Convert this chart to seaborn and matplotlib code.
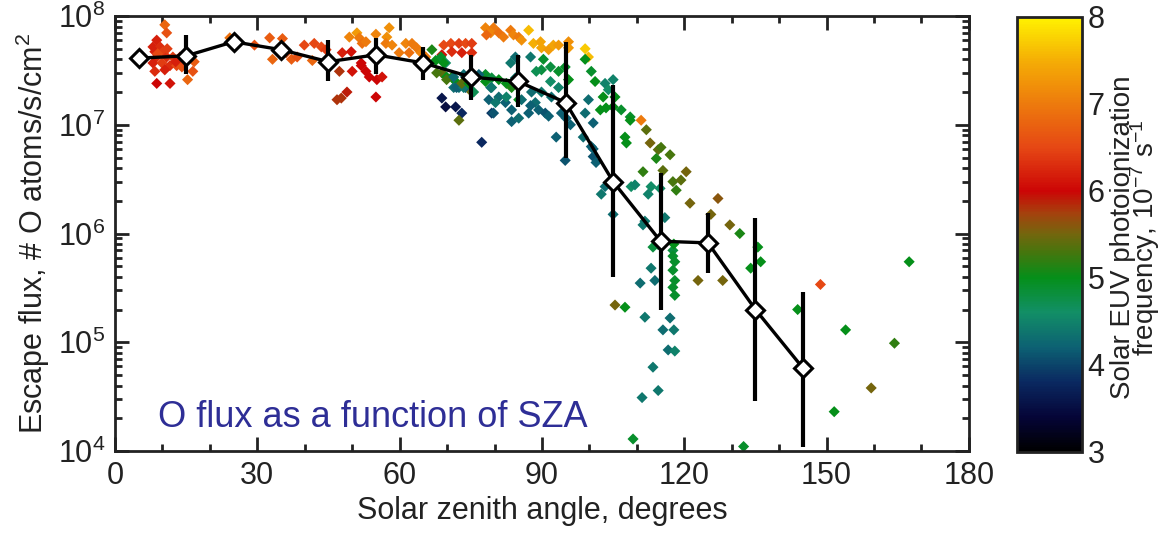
import numpy as np
import pandas as pd
import matplotlib
matplotlib.use("Agg")
import matplotlib.pyplot as plt
from matplotlib.colors import LinearSegmentedColormap, Normalize
from matplotlib.cm import ScalarMappable
from matplotlib.ticker import MultipleLocator, FixedLocator, FixedFormatter, NullFormatter
import seaborn as sns

# ---- individual escape-flux measurements --------------------------------
sza = [
    10.5, 10.9, 8.8, 8.0, 9.5, 8.4, 10.1, 8.8, 10.9, 12.2,
    8.0, 9.9, 11.6, 13.0, 8.4, 10.5, 14.1, 14.3, 15.8, 16.4,
    8.8, 11.6, 15.3, 13.7, 9.0, 12.8, 11.0, 16.7,
    24.2, 25.4, 29.4, 32.6, 35.3, 33.2, 36.1, 37.2, 38.4, 39.9,
    42.0, 43.5, 44.5, 41.6, 47.9, 49.8, 51.0, 49.4, 51.5, 52.1,
    52.9, 55.0, 57.3, 57.8, 57.1, 58.4, 51.9, 51.9, 52.9, 53.6,
    55.2, 56.3, 50.0, 55.0, 46.8, 47.7, 48.9, 47.3, 59.9, 61.3,
    62.6, 63.6, 64.5, 62.0, 65.5, 69.3, 70.8, 72.5, 73.9, 75.2,
    68.9, 71.0, 73.1, 75.2, 66.8, 67.6, 69.7, 68.9, 67.8, 69.9,
    71.0, 71.8, 73.5, 72.5, 73.9, 71.4, 75.2, 74.6, 78.1, 79.2,
    79.4, 78.1, 79.8, 79.2, 68.9, 69.7, 71.8, 73.1, 72.5, 77.3,
    78.3, 80.9, 81.9, 83.4, 84.0, 85.1, 85.7, 87.2, 88.2, 89.7,
    89.9, 91.4, 92.4, 93.5, 95.6, 95.6, 99.1, 99.8,
    84.4, 83.4, 87.6, 90.3, 91.8, 93.5, 89.9, 88.8, 94.9, 95.6,
    91.8, 93.5, 99.1, 100.4, 101.2, 103.3, 105.0, 104.0, 102.9, 105.4,
    102.3, 103.5, 105.0, 106.7, 108.6, 107.5, 99.8, 99.1, 100.8, 98.7,
    100.4, 100.8, 101.4, 78.1, 79.4, 80.9, 82.5, 83.6, 84.4, 80.9,
    82.3, 83.6, 85.1, 79.4, 83.6, 85.1, 87.2, 89.3, 90.7, 91.4,
    88.6, 87.8, 89.9, 92.0, 94.1, 95.1, 96.0, 93.0, 94.9,
    68.7, 69.3, 69.9, 71.4, 72.0, 73.5, 73.1, 74.6, 75.6, 76.7,
    78.8, 79.8, 80.2, 82.5, 85.7, 87.6,
    110.9, 108.6, 112.0, 107.8, 112.8, 114.5, 115.1, 117.0, 114.1, 111.3,
    115.5, 120.4, 117.6, 119.3, 118.3, 113.0, 112.4, 114.9, 121.2, 127.1,
    125.6, 129.6, 131.7, 135.5, 136.1, 134.0, 111.7, 111.3, 115.9, 113.4,
    114.5, 117.6, 118.0, 117.6, 118.0, 117.6, 118.0, 117.8, 117.6, 113.0,
    113.8, 110.7, 122.9, 128.1, 105.4, 107.5, 111.7, 117.0, 115.5, 117.8,
    116.6, 118.0, 113.4, 114.5, 111.1, 109.2, 132.5, 102.5, 105.0, 103.3,
    100.8, 108.8, 109.6, 143.9, 148.7, 154.0, 159.4, 164.3, 167.4, 151.6,
]
flux = [
    8.3e7, 7.0e7, 6.0e7, 5.2e7, 5.2e7, 4.7e7, 4.7e7, 4.2e7, 4.2e7, 4.2e7,
    3.7e7, 3.7e7, 3.5e7, 3.5e7, 3.1e7, 3.2e7, 3.4e7, 3.9e7, 4.2e7, 3.1e7,
    2.4e7, 2.4e7, 2.6e7, 4.2e7, 4.5e7, 3.8e7, 5.0e7, 3.8e7,
    6.3e7, 5.8e7, 5.4e7, 6.3e7, 6.2e7, 4.0e7, 4.6e7, 4.0e7, 4.2e7, 5.4e7,
    5.6e7, 5.2e7, 4.9e7, 3.9e7, 4.6e7, 4.7e7, 7.0e7, 6.4e7, 6.3e7, 5.6e7,
    5.8e7, 6.8e7, 6.4e7, 7.8e7, 5.6e7, 5.4e7, 3.7e7, 3.5e7, 3.1e7, 2.75e7,
    2.6e7, 2.75e7, 3.1e7, 1.8e7, 1.7e7, 1.76e7, 2.0e7, 3.1e7, 4.6e7, 5.6e7,
    5.6e7, 5.1e7, 4.6e7, 4.6e7, 4.2e7, 5.4e7, 5.6e7, 5.6e7, 5.6e7, 5.6e7,
    4.4e7, 4.7e7, 4.6e7, 4.6e7, 4.9e7, 3.9e7, 3.7e7, 3.0e7, 3.0e7, 2.75e7,
    2.75e7, 2.5e7, 2.9e7, 2.2e7, 2.2e7, 2.2e7, 2.0e7, 2.5e7, 2.9e7, 2.2e7,
    2.7e7, 7.8e7, 7.8e7, 7.0e7, 1.76e7, 1.46e7, 1.46e7, 1.28e7, 1.1e7, 6.9e6,
    6.7e7, 7.0e7, 6.4e7, 7.4e7, 6.7e7, 6.4e7, 6.0e7, 7.4e7, 5.6e7, 5.8e7,
    5.1e7, 4.9e7, 5.4e7, 5.4e7, 5.8e7, 5.1e7, 5.0e7, 4.2e7,
    4.2e7, 3.7e7, 4.2e7, 4.0e7, 3.4e7, 3.1e7, 3.2e7, 3.1e7, 3.4e7, 2.6e7,
    2.5e7, 2.2e7, 4.0e7, 3.1e7, 2.5e7, 2.4e7, 2.6e7, 2.1e7, 1.8e7, 1.8e7,
    1.37e7, 1.43e7, 1.46e7, 1.37e7, 1.18e7, 7.7e6, 1.7e7, 1.28e7, 1.04e7, 7.7e6,
    6.3e6, 5.1e6, 4.5e6, 2.5e7, 2.2e7, 2.6e7, 2.4e7, 2.2e7, 2.7e7, 1.8e7,
    1.6e7, 1.37e7, 1.7e7, 1.28e7, 1.07e7, 1.15e7, 1.28e7, 1.37e7, 1.28e7, 1.2e7,
    1.6e7, 2.0e7, 2.0e7, 1.8e7, 1.28e7, 1.15e7, 1.0e7, 7.7e6, 4.7e6,
    4.2e7, 3.7e7, 2.6e7, 2.75e7, 2.2e7, 2.2e7, 2.4e7, 2.4e7, 2.0e7, 2.9e7,
    1.7e7, 1.28e7, 1.6e7, 1.8e7, 1.7e7, 1.5e7,
    1.1e7, 1.1e7, 9.0e6, 6.8e6, 6.8e6, 5.9e6, 6.2e6, 5.3e6, 4.9e6, 3.7e6,
    3.8e6, 3.7e6, 3.0e6, 3.1e6, 2.5e6, 2.7e6, 2.3e6, 2.6e6, 1.9e6, 2.1e6,
    1.5e6, 1.2e6, 1.0e6, 7.5e5, 5.5e5, 4.8e5, 1.3e6, 1.2e6, 1.4e6, 7.5e5,
    7.9e5, 7.0e5, 5.5e5, 4.6e5, 3.7e5, 3.2e5, 2.7e5, 8.0e5, 6.2e5, 4.8e5,
    3.7e5, 3.5e5, 3.7e5, 3.7e5, 2.2e5, 2.1e5, 1.7e5, 1.67e5, 1.3e5, 1.3e5,
    8.5e4, 8.3e4, 5.9e4, 3.6e4, 3.1e4, 1.29e4, 1.1e4, 2.3e6, 1.5e6, 2.7e6,
    6.0e6, 2.7e6, 2.8e6, 2.0e5, 3.4e5, 1.3e5, 3.8e4, 9.8e4, 5.5e5, 2.3e4,
]
euv = [
    6.8, 6.6, 6.2, 6.2, 6.3, 6.2, 6.4, 6.3, 6.3, 6.4,
    6.2, 6.4, 6.3, 6.5, 6.3, 6.2, 6.6, 6.5, 6.4, 6.6,
    6.0, 6.1, 6.8, 6.3, 6.5, 6.2, 6.4, 6.7,
    6.9, 6.8, 6.6, 6.7, 6.7, 6.8, 6.6, 6.7, 6.6, 6.5,
    6.5, 6.5, 6.4, 6.8, 6.2, 6.1, 7.3, 7.1, 7.0, 6.9,
    7.0, 7.1, 7.2, 7.2, 7.0, 7.1, 6.0, 6.0, 6.0, 6.0,
    6.0, 6.1, 6.1, 6.0, 5.8, 5.8, 5.9, 5.8, 7.0, 7.1,
    7.0, 7.0, 7.1, 6.9, 7.0, 6.5, 6.5, 6.4, 6.5, 6.4,
    6.1, 6.3, 6.2, 6.3, 5.1, 5.0, 4.6, 5.4, 5.3, 5.0,
    5.1, 5.0, 4.3, 4.3, 4.2, 4.3, 5.5, 6.4, 4.9, 4.3,
    4.8, 7.1, 7.0, 7.1, 3.6, 3.5, 3.6, 3.8, 5.4, 3.8,
    6.8, 6.9, 7.0, 7.0, 7.1, 7.0, 7.2, 7.6, 7.5, 7.4,
    7.4, 7.3, 7.4, 7.3, 7.2, 7.3, 7.7, 7.6,
    4.3, 4.4, 4.4, 4.9, 4.8, 4.9, 4.8, 4.7, 4.9, 5.0,
    4.6, 4.5, 5.0, 4.9, 5.0, 4.5, 4.5, 4.6, 5.0, 5.0,
    5.0, 5.0, 5.0, 4.9, 4.9, 5.0, 4.3, 4.3, 4.2, 4.3,
    4.2, 4.1, 4.2, 5.0, 4.4, 5.0, 5.0, 5.1, 4.4, 4.3,
    4.2, 4.2, 5.0, 3.9, 4.2, 4.3, 4.2, 4.2, 4.1, 4.2,
    4.3, 4.3, 4.4, 4.3, 4.2, 4.2, 4.2, 4.2, 4.1,
    4.9, 5.0, 5.3, 4.3, 4.2, 4.4, 5.4, 5.0, 4.7, 4.2,
    4.2, 4.1, 4.4, 4.5, 4.3, 4.2,
    7.0, 5.0, 5.4, 5.0, 5.5, 5.4, 5.3, 5.3, 5.1, 5.2,
    5.4, 5.5, 5.3, 5.4, 5.2, 4.6, 4.5, 4.6, 5.5, 5.6,
    5.5, 5.5, 5.1, 5.0, 5.0, 5.0, 4.4, 4.4, 4.4, 4.8,
    4.8, 4.8, 4.9, 4.9, 4.9, 4.9, 4.9, 5.0, 4.9, 4.4,
    4.3, 4.3, 5.5, 5.5, 5.5, 5.0, 4.4, 4.3, 4.3, 4.4,
    4.3, 4.5, 4.4, 4.4, 4.4, 4.9, 4.9, 4.4, 4.3, 4.3,
    4.2, 4.6, 4.5, 5.0, 6.5, 5.0, 5.5, 5.2, 5.0, 5.0,
]

# ---- 10-degree bin averages with spread ---------------------------------
bin_sza = [5, 15, 25, 35, 45, 55, 65, 75, 85, 95, 105, 115, 125, 135, 145]
bin_flux = [4.1e7, 4.3e7, 5.8e7, 4.9e7, 3.8e7, 4.4e7, 3.7e7, 2.75e7, 2.5e7,
            1.6e7, 3.0e6, 8.5e5, 8.2e5, 2.0e5, 5.8e4]
bin_low = [3.6e7, 2.9e7, 5.3e7, 4.5e7, 2.5e7, 2.9e7, 2.6e7, 1.7e7, 1.46e7,
           4.9e6, 4.0e5, 2.0e5, 4.3e5, 2.9e4, 1.1e4]
bin_high = [4.6e7, 6.7e7, 6.4e7, 5.4e7, 6.0e7, 6.3e7, 5.2e7, 4.4e7, 4.4e7,
            5.8e7, 2.3e7, 3.6e6, 1.55e6, 1.4e6, 2.9e5]

x_ticks = [0, 30, 60, 90, 120, 150, 180]
y_ticks = [1e4, 1e5, 1e6, 1e7, 1e8]
y_tick_labels = [r"$10^{4}$", r"$10^{5}$", r"$10^{6}$", r"$10^{7}$", r"$10^{8}$"]
cbar_ticks = [3, 4, 5, 6, 7, 8]

# ---- styling --------------------------------------------------------------
sns.set_style("ticks")
plt.rcParams["font.family"] = ["Liberation Sans", "DejaVu Sans"]
plt.rcParams["mathtext.default"] = "regular"
plt.rcParams["mathtext.fontset"] = "custom"
plt.rcParams["mathtext.rm"] = "Liberation Sans"

INK = "#222222"
FS = 22

euv_cmap = LinearSegmentedColormap.from_list("euv", [
    (0.00, (0.00, 0.00, 0.00)),
    (0.08, (0.02, 0.02, 0.22)),
    (0.16, (0.04, 0.16, 0.38)),
    (0.24, (0.05, 0.38, 0.45)),
    (0.32, (0.07, 0.56, 0.40)),
    (0.40, (0.02, 0.56, 0.10)),
    (0.46, (0.28, 0.46, 0.05)),
    (0.50, (0.45, 0.40, 0.05)),
    (0.55, (0.65, 0.25, 0.05)),
    (0.60, (0.80, 0.02, 0.02)),
    (0.70, (0.90, 0.28, 0.08)),
    (0.80, (0.93, 0.48, 0.05)),
    (0.90, (0.96, 0.68, 0.02)),
    (1.00, (1.00, 0.95, 0.00)),
])
norm = Normalize(vmin=3, vmax=8)

fig = plt.figure(figsize=(11.65, 5.34), dpi=100)
ax = fig.add_axes([0.0987, 0.1554, 0.733, 0.8146])
cax = fig.add_axes([0.873, 0.1536, 0.0558, 0.815])

points = pd.DataFrame({"sza": sza, "flux": flux, "euv": euv})
sns.scatterplot(data=points, x="sza", y="flux", hue="euv", palette=euv_cmap,
                hue_norm=norm, marker="D", s=32, linewidth=0, legend=False,
                ax=ax, zorder=2)

ax.vlines(bin_sza, bin_low, bin_high, color="black", lw=3, zorder=3)
bins = pd.DataFrame({"sza": bin_sza, "flux": bin_flux})
sns.lineplot(data=bins, x="sza", y="flux", color="black", lw=2.4,
             marker="D", markersize=9, markerfacecolor="white",
             markeredgecolor="black", markeredgewidth=2.2, ax=ax, zorder=4)

ax.set_yscale("log")
ax.set_xlim(0, 180)
ax.set_ylim(1e4, 1e8)
ax.xaxis.set_major_locator(FixedLocator(x_ticks))
ax.xaxis.set_minor_locator(MultipleLocator(10))
ax.yaxis.set_major_locator(FixedLocator(y_ticks))
ax.yaxis.set_major_formatter(FixedFormatter(y_tick_labels))
ax.yaxis.set_minor_locator(FixedLocator(
    [m * 10.0 ** k for k in range(4, 8) for m in range(2, 10)]))
ax.yaxis.set_minor_formatter(NullFormatter())

for side in ax.spines.values():
    side.set_linewidth(2)
    side.set_color(INK)
ax.tick_params(which="both", direction="in", top=True, right=True,
               color=INK, width=2, labelsize=FS, labelcolor=INK)
ax.tick_params(which="major", length=10, pad=7)
ax.tick_params(which="minor", length=5)

ax.set_xlabel("Solar zenith angle, degrees", fontsize=FS, color=INK,
              labelpad=4)
ax.set_ylabel("Escape flux, # O atoms/s/cm$^2$", fontsize=FS,
              color=INK, labelpad=4)

ax.text(0.05, 0.077, "O flux as a function of SZA", transform=ax.transAxes,
        fontsize=26, color="#2e2e96", va="center", ha="left", zorder=5)

sm = ScalarMappable(norm=norm, cmap=euv_cmap)
cb = fig.colorbar(sm, cax=cax, ticks=cbar_ticks)
cb.outline.set_linewidth(2)
cb.outline.set_edgecolor(INK)
cax.tick_params(length=0, labelsize=FS, pad=4, labelcolor=INK)

# colour-bar title, two centred lines to the right of the tick labels
fig.text(0.975, 0.555, "Solar EUV photoionization\nfrequency, 10$^{-7}$ s$^{-1}$",
         rotation=90, ha="center", va="center", multialignment="center",
         fontsize=20, color=INK, linespacing=0.72)

fig.savefig("out.png", dpi=100)
